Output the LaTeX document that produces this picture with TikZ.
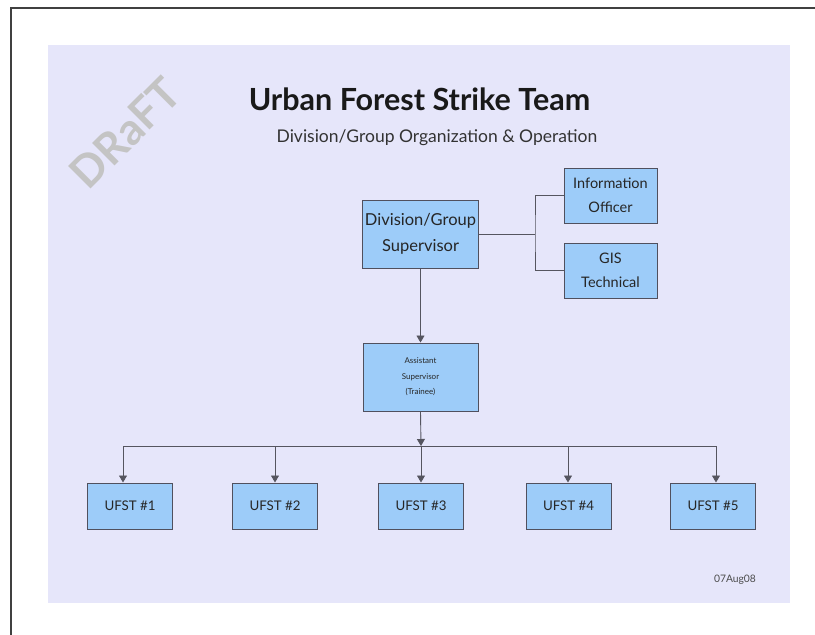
\documentclass[tikz,border=0pt]{standalone}
\usepackage{fontspec}
\setmainfont{Lato}
\usetikzlibrary{arrows.meta}
\definecolor{slidebg}{HTML}{E6E6FA}
\definecolor{boxfill}{HTML}{9DCCF9}
\definecolor{boxline}{HTML}{50505E}
\definecolor{linecol}{HTML}{55555F}
\definecolor{draftgray}{HTML}{C4C4C4}
\tikzset{
  orgbox/.style={draw=boxline, line width=1pt, fill=boxfill, inner sep=0pt, align=center, text=black!85},
  conn/.style={draw=linecol, line width=0.9pt},
  arr/.style={conn, -{Triangle[width=8pt,length=7pt]}},
}
\begin{document}
\begin{tikzpicture}[x=1pt,y=-1pt]
\useasboundingbox (0,0) rectangle (815,635);
\fill[white] (0,0) rectangle (815,635);
\draw[black!75, line width=1.6pt] (11,636) -- (11,8) -- (816,8);
\fill[slidebg] (48,45) rectangle (790,603);
% watermark
\node[rotate=45, text=draftgray, font=\bfseries\fontsize{44}{44}\selectfont] (draft) at (125,133) {DRaFT};
% titles
\node[font=\bfseries\fontsize{30.5}{32}\selectfont, text=black!90] (title) at (419.5,99) {Urban Forest Strike Team};
\node[font=\fontsize{17.5}{20}\selectfont, text=black!80] (sub) at (437,138) {Division/Group Organization \& Operation};
% boxes
\node[orgbox, minimum width=116pt, minimum height=68pt, font=\fontsize{16.5}{26}\selectfont] (div) at (420.5,234) {Division/Group\\Supervisor};
\node[orgbox, minimum width=93pt, minimum height=55pt, font=\fontsize{14.5}{24}\selectfont] (info) at (610.5,195.5) {Information\\Officer};
\node[orgbox, minimum width=93pt, minimum height=55pt, font=\fontsize{14.5}{24}\selectfont] (gis) at (610.5,270.5) {GIS\\Technical};
\node[orgbox, minimum width=115pt, minimum height=68pt, font=\fontsize{8}{15.5}\selectfont] (asst) at (420.5,377) {Assistant\\Supervisor\\(Trainee)};
\foreach \i/\x in {1/130, 2/275, 3/421, 4/568.5, 5/713}{
  \node[orgbox, minimum width=85pt, minimum height=46pt, font=\fontsize{13.3}{15}\selectfont] (u\i) at (\x,506) {UFST \#\i};
}
\node[font=\fontsize{10.3}{12}\selectfont, text=black!70] (date) at (735,580) {07Aug08};
% connectors
\coordinate (jr) at (535,234);
\coordinate (bus) at (421,446);
\draw[conn] (div.east) -- (jr);
\draw[conn] (info.west) -| (jr) |- (gis.west);
\draw[arr] (div.south) -- (asst.north);
\draw[arr] (asst.south) -- (bus);
\coordinate (b1) at (123,446);
\coordinate (b2) at (275,446);
\coordinate (b3) at (421,446);
\coordinate (b4) at (568,446);
\coordinate (b5) at (716,446);
\draw[conn] (b1) -- (b5);
\foreach \i in {1,...,5}{
  \draw[arr] (b\i) -- (b\i |- u\i.north);
}
\end{tikzpicture}
\end{document}
